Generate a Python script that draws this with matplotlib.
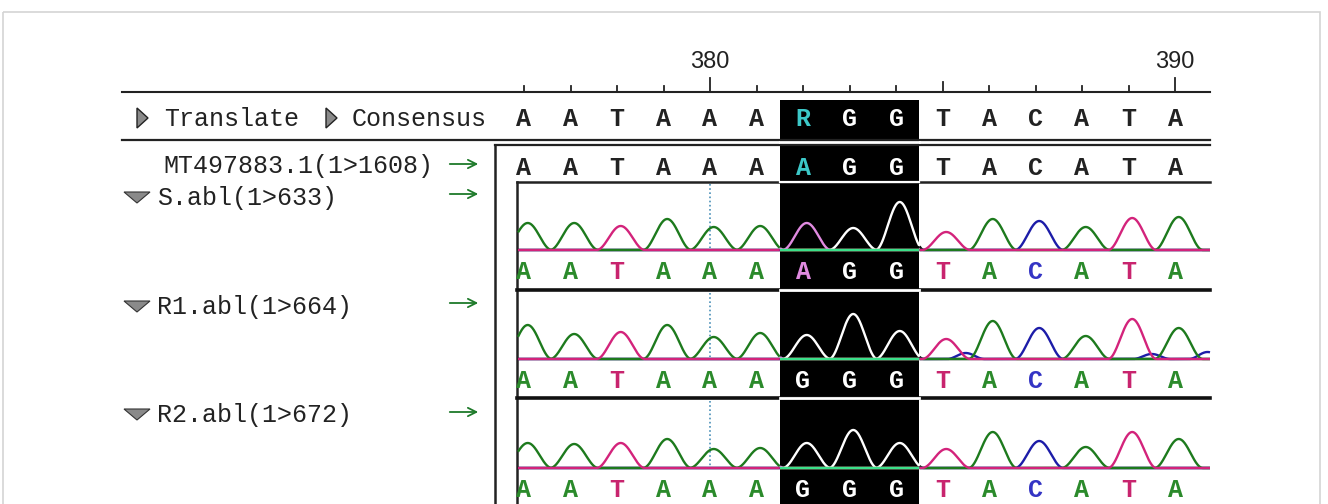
import matplotlib
matplotlib.use("Agg")
import matplotlib.pyplot as plt
from matplotlib.patches import Rectangle, Polygon
from matplotlib.transforms import Affine2D
import numpy as np

# ---- data ----
positions = list(range(376, 391))
consensus = list("AATAAARGGTACATA")
reference = list("AATAAAAGGTACATA")
ref_name = "MT497883.1(1>1608)"
sample_names = ["S.abl(1>633)", "R1.abl(1>664)", "R2.abl(1>672)"]
calls_s = list("AATAAAAGGTACATA")
calls_r1 = list("AATAAAGGGTACATA")
calls_r2 = list("AATAAAGGGTACATA")
peaks_s = [27, 27, 24, 31, 23, 24, 27, 22, 48, 18, 31, 29, 23, 32, 33]
peaks_r1 = [34, 25, 27, 34, 22, 26, 24, 45, 28, 20, 38, 31, 23, 40, 31]
peaks_r2 = [25, 24, 25, 29, 19, 20, 25, 38, 25, 19, 36, 27, 21, 36, 29]
# small secondary peaks (position, channel, height)
minor_s = []
minor_r1 = [(385.5, "C", 6), (389.5, "C", 5), (390.7, "C", 7)]
minor_r2 = []
highlight_cols = [382, 383, 384]
ruler_labels = [380, 390]
mid_tick = [385]

W, H = 1328, 504
X380, STEP = 710, 46.5

trace_col = {"A": "#1d7a1d", "C": "#1c1ca8", "G": "#111111", "T": "#d3237b"}
inv_col = {"A": "#e08ae0", "C": "#e3e35a", "G": "#ffffff", "T": "#3be08a"}
letter_col = {"A": "#2b8a2b", "C": "#3434c4", "G": "#111111", "T": "#c8246e", "R": "#111111"}

fig = plt.figure(figsize=(W / 100, H / 100), dpi=100)
ax = fig.add_axes([0, 0, 1, 1])
ax.set_xlim(380 - X380 / STEP, 380 + (W - X380) / STEP)
ax.set_ylim(H, 0)
ax.axis("off")
pix = Affine2D().scale(1 / W, -1 / H).translate(0, 1) + fig.transFigure

mono = "Liberation Mono"

# outer frame
ax.add_patch(Rectangle((3, 12), 1317, 500, transform=pix, fill=False,
                       edgecolor="#d4d4d4", lw=1.2, zorder=1))

# highlight block
h0, h1 = min(highlight_cols) - 0.5, max(highlight_cols) + 0.5
ax.add_patch(Rectangle((h0, 100), h1 - h0, 410, facecolor="black",
                       edgecolor="none", zorder=2))

# ruler
ax.plot([122, 1210], [92, 92], transform=pix, color="#222222", lw=1.5, zorder=3)
for p in positions:
    top = 78 if p in ruler_labels else (82 if p in mid_tick else 86)
    ax.plot([p, p], [92, top], color="#222222", lw=1.3, zorder=3)
for p in ruler_labels:
    ax.text(p, 62, str(p), ha="center", va="center", fontsize=17,
            family="Liberation Sans", color="#222222")

# horizontal rules
ax.plot([122, 1210], [140, 140], transform=pix, color="#222222", lw=1.6, zorder=3)
ax.plot([495, 1210], [144.5, 144.5], transform=pix, color="#222222", lw=1.6, zorder=3)
ax.plot([495, 495], [144.5, 510], transform=pix, color="#222222", lw=1.8, zorder=3)
ax.plot([517, 1210], [182, 182], transform=pix, color="#222222", lw=1.8, zorder=3)
ax.plot([517, 517], [182, 510], transform=pix, color="#222222", lw=1.8, zorder=3)
for yy in [290, 398]:
    ax.plot([517, 1210], [yy, yy], transform=pix, color="#111111", lw=2.6, zorder=3)
# white separators inside the highlight
for yy, lw in [(142, 2.0), (182, 1.6), (290, 2.0), (398, 2.0)]:
    ax.plot([h0, h1], [yy, yy], color="white", lw=lw, zorder=4)

# left header
def tri_right(x, y):
    ax.add_patch(Polygon([(x, y - 10), (x, y + 10), (x + 11, y)], closed=True,
                         transform=pix, facecolor="#8a8a8a", edgecolor="#222222",
                         lw=1.0, zorder=5))

def tri_down(x, y):
    ax.add_patch(Polygon([(x, y - 5), (x + 26, y - 5), (x + 13, y + 6)], closed=True,
                         transform=pix, facecolor="#8a8a8a", edgecolor="#333333",
                         lw=0.8, zorder=5))

tri_right(137, 118)
ax.text(164, 119, "Translate", transform=pix, fontsize=18, family=mono,
        va="center", ha="left", color="#222222")
tri_right(326, 118)
ax.text(352, 119, "Consensus", transform=pix, fontsize=18, family=mono,
        va="center", ha="left", color="#222222")

def arrow(y):
    ax.annotate("", xy=(481, y), xytext=(447, y), xycoords=pix, textcoords=pix,
                arrowprops=dict(arrowstyle="->,head_length=0.6,head_width=0.3",
                                color="#1e7a2a", lw=1.3))

ax.text(433, 166, ref_name, transform=pix, fontsize=18, family=mono,
        va="center", ha="right", color="#222222")
arrow(164)

# consensus and reference letters
for p, c, r in zip(positions, consensus, reference):
    inside = p in highlight_cols
    cc = "#3cc8c8" if c == "R" else ("white" if inside else "#222222")
    rc = "#3cc8c8" if (inside and r == "A") else ("white" if inside else "#222222")
    ax.text(p, 119, c, fontsize=18, family=mono, fontweight="bold",
            ha="center", va="center", color=cc, zorder=6)
    ax.text(p, 168, r, fontsize=18, family=mono, fontweight="bold",
            ha="center", va="center", color=rc, zorder=6)

# sample tracks
tracks = [
    (sample_names[0], calls_s, peaks_s, minor_s, 198, 194, 250, 272, (184, 248)),
    (sample_names[1], calls_r1, peaks_r1, minor_r1, 307, 303, 359, 381, (293, 357)),
    (sample_names[2], calls_r2, peaks_r2, minor_r2, 415, 412, 468, 490, (401, 466)),
]
xs = np.linspace(380 + (518 - X380) / STEP, 380 + (1210 - X380) / STEP, 2000)
segs = [(xs < h0, False), ((xs >= h0) & (xs <= h1), True), (xs > h1, False)]


def bump(d, half):
    out = np.cos(np.pi * d / (2 * half)) ** 2
    return np.where(np.abs(d) < half, out, 0.0)


for name, calls, peaks, minor, ly, ay, base, lety, dot in tracks:
    tri_down(124, ly - 1)
    ax.text(157, ly, name, transform=pix, fontsize=18, family=mono,
            va="center", ha="left", color="#222222")
    arrow(ay)
    ax.plot([380, 380], dot, color="#4a90b8", lw=1.2, ls=(0, (1, 1.5)), zorder=4)
    for ch in ["G", "C", "A", "T"]:
        sig = np.zeros_like(xs)
        for p, b, h in zip(positions, calls, peaks):
            if b == ch:
                sig += h * bump(xs - p - 0.08, 0.52)
        for mp, mc, mh in minor:
            if mc == ch:
                sig += mh * bump(xs - mp, 0.4)
        yv = base - sig
        for m, inv in segs:
            ax.plot(xs[m], yv[m], color=(inv_col if inv else trace_col)[ch],
                    lw=1.7, zorder=7 if ch == "T" else 6, solid_capstyle="butt")
    for p, b in zip(positions, calls):
        inside = p in highlight_cols
        if inside:
            col = "white" if b == "G" else inv_col[b]
        else:
            col = letter_col[b]
        ax.text(p, lety, b, fontsize=18, family=mono, fontweight="bold",
                ha="center", va="center", color=col, zorder=8)

fig.savefig("out.png", dpi=100, facecolor="white")
